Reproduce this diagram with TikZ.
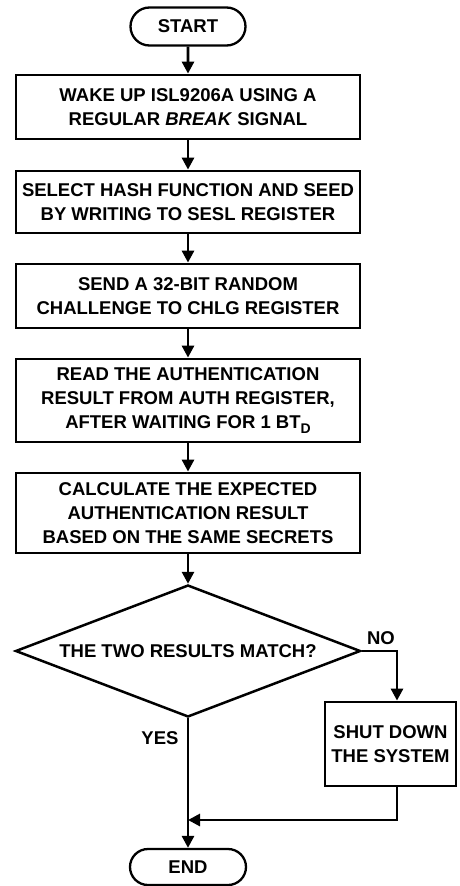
\documentclass[tikz,border=0pt]{standalone}
\usepackage{fontspec}
\setmainfont{Liberation Sans}
\usetikzlibrary{arrows.meta,shapes.geometric,shapes.misc}
\begin{document}
\begin{tikzpicture}[x=1pt,y=-1pt,
  txt/.style={font=\bfseries\fontsize{18.5}{24}\selectfont, text=black},
  box/.style={txt, draw, line width=2.8pt, minimum width=344pt, align=center, inner sep=2pt},
  term/.style={txt, draw, rounded rectangle, line width=2.3pt, minimum width=119pt, minimum height=38pt, inner sep=2pt},
  decision/.style={txt, draw, diamond, aspect=2.6, line width=2.5pt, minimum width=345pt, minimum height=132pt, inner sep=0pt},
  arr/.style={line width=2.8pt, -{Triangle[length=12pt,width=12pt]}},
  conn/.style={line width=2.8pt},
  lbl/.style={txt}]
\useasboundingbox (0,0) rectangle (459,886);

\node[term] (start) at (188,26.5) {START};
\node[box, minimum height=64pt] (b1) at (188,107) {WAKE UP ISL9206A USING A\\REGULAR \textit{BREAK} SIGNAL};
\node[box, minimum height=62pt] (b2) at (188,202) {SELECT HASH FUNCTION AND SEED\\BY WRITING TO SESL REGISTER};
\node[box, minimum height=64pt] (b3) at (188,296) {SEND A 32-BIT RANDOM\\CHALLENGE TO CHLG REGISTER};
\node[box, minimum height=83pt] (b4) at (188,400.5) {READ THE AUTHENTICATION\\RESULT FROM AUTH REGISTER,\\AFTER WAITING FOR 1 BT\raisebox{-4.5pt}{\fontsize{14}{14}\selectfont D}};
\node[box, minimum height=80pt] (b5) at (188,513) {CALCULATE THE EXPECTED\\AUTHENTICATION RESULT\\BASED ON THE SAME SECRETS};
\node[decision] (dec) at (188,651) {THE TWO RESULTS MATCH?};
\node[box, minimum width=131pt, minimum height=84pt] (shut) at (390.5,744) {SHUT DOWN\\THE SYSTEM};
\node[term, minimum width=120pt, minimum height=36pt] (end) at (188,867) {END};

\node[lbl] (no) at (381,638) {NO};
\node[lbl] (yes) at (160,738) {YES};

\coordinate (noturn) at (397,651);
\coordinate (merge) at (397,820);

\draw[arr] (start) -- (b1);
\draw[arr] (b1) -- (b2);
\draw[arr] (b2) -- (b3);
\draw[arr] (b3) -- (b4);
\draw[arr] (b4) -- (b5);
\draw[arr] (b5) -- (dec);
\draw[arr] (dec.east) -- (noturn) -- (noturn |- shut.north);
\draw[arr] (dec.south) -- (end.north);
\draw[arr] (noturn |- shut.south) -- (merge) -- (merge -| dec.south);
\end{tikzpicture}
\end{document}
